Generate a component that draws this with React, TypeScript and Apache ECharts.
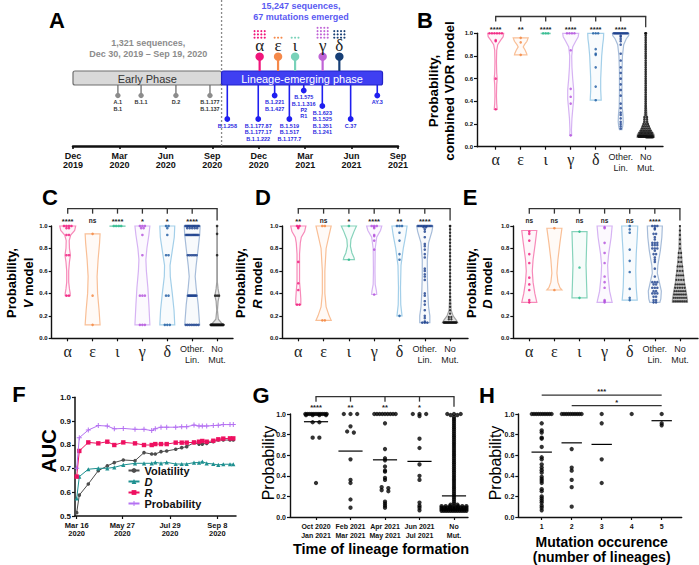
import React, { useEffect, useRef } from 'react';
import * as echarts from 'echarts';

const SANS = '"Liberation Sans", Arial, Helvetica, sans-serif';
const SERIF = '"Liberation Serif", "Times New Roman", Times, serif';
const INK = '#111111';

const rep = (v: number, n: number): number[] => Array(n).fill(v);
const expand = (pairs: number[][]): number[] => pairs.flatMap(([v, n]) => rep(v, n));

/* ---------------- Panel A : timeline ---------------- */
const timeTickMonths = [0, 3, 6, 9, 12, 15, 18, 21];
const timeTickLabels = ['Dec\n2019', 'Mar\n2020', 'Jun\n2020', 'Sep\n2020', 'Dec\n2020', 'Mar\n2021', 'Jun\n2021', 'Sep\n2021'];
const phaseLabels = ['Early Phase', 'Lineage-emerging phase'];
const phaseStartMonth = [0, 9.6];
const phaseEndMonth = [9.6, 20.0];
const phaseSplitMonth = 9.6;
const earlyLineages = ['A.1\nB.1', 'B.1.1', 'D.2', 'B.1.177\nB.1.137'];
const earlyLineageMonth = [2.9, 4.4, 6.65, 8.85];
const earlyLineageLevel = [95.5, 95.5, 95.5, 95.5];
const emergingLineages = ['B.1.258', 'B.1.177.87\nB.1.177.17\nB.1.1.222', 'B.1.221\nB.1.427', 'B.1.519\nB.1.517\nB.1.177.7', 'B.1.575\nB.1.1.316\nP2\nR1', 'B.1.623\nB.1.525\nB.1.351\nB.1.241', 'C.37', 'AY.3'];
const emergingLineageMonth = [9.97, 11.97, 13.03, 13.98, 14.91, 16.11, 17.94, 19.66];
const emergingLineageLevel = [119, 119, 95.5, 119, 90.5, 106, 119, 95.5];
const variantLetters = ['α', 'ε', 'ι', 'γ', 'δ'];
const variantMonth = [12.06, 13.25, 14.35, 16.13, 17.21];
const variantMutations = [12, 3, 3, 16, 12];
const variantColors = ['#f0167b', '#f5894a', '#79d2b9', '#c064d6', '#173f76'];

/* ---------------- Panels B-E : violins ---------------- */
const lineageCategories = ['α', 'ε', 'ι', 'γ', 'δ', 'Other.\nLin.', 'No\nMut.'];
const lineageDotColors = ['#f0157a', '#f4843c', '#28b98b', '#b34fdc', '#1d5aa0', '#1a3f8c', '#111111'];
const lineageViolinColors = ['#f78ab9', '#f9bf96', '#86d3bb', '#d6b3f3', '#a3cfe9', '#a6bcd9', '#a0a0a0'];

const violinB = [
  [[1.0, 0.32], [0.97, 0.3], [0.94, 0.2], [0.9, 0.08], [0.85, 0.04], [0.75, 0.03], [0.65, 0.04], [0.6, 0.06], [0.55, 0.04], [0.45, 0.03], [0.38, 0.04], [0.33, 0.06]],
  [[0.96, 0.3], [0.93, 0.25], [0.9, 0.15], [0.88, 0.1], [0.85, 0.18], [0.82, 0.24], [0.81, 0.25]],
  [[1.0, 0.18], [0.997, 0.18]],
  [[1.0, 0.32], [0.97, 0.3], [0.93, 0.2], [0.88, 0.08], [0.8, 0.04], [0.7, 0.05], [0.6, 0.08], [0.5, 0.12], [0.42, 0.12], [0.35, 0.09], [0.25, 0.05], [0.15, 0.03], [0.1, 0.04]],
  [[1.0, 0.32], [0.95, 0.31], [0.9, 0.28], [0.8, 0.24], [0.7, 0.22], [0.6, 0.2], [0.5, 0.2], [0.41, 0.22]],
  [[1.0, 0.33], [0.98, 0.32], [0.95, 0.22], [0.9, 0.12], [0.8, 0.07], [0.65, 0.05], [0.5, 0.05], [0.35, 0.06], [0.28, 0.09], [0.22, 0.1], [0.18, 0.08], [0.15, 0.05]],
  [[1.0, 0.015], [0.6, 0.015], [0.35, 0.03], [0.25, 0.06], [0.2, 0.1], [0.15, 0.2], [0.11, 0.33], [0.085, 0.35]],
];
const dotsB = [
  [1, 1, 1, 1, 1, 1, 0.94, 0.93, 0.6, 0.33],
  [0.96, 0.92, 0.81],
  [1, 1, 1],
  [1, 1, 1, 1, 0.85, 0.51, 0.44, 0.38, 0.1],
  [1, 1, 1, 0.86, 0.82, 0.81, 0.7, 0.53, 0.41],
  [...rep(1, 14), 0.98, 0.97, 0.95, 0.93, 0.9, 0.82, 0.76, 0.7, 0.65, 0.6, 0.55, 0.5, 0.45, 0.38, 0.34, 0.3, 0.28, 0.25, 0.22, 0.2, 0.18, 0.16],
  expand([[1, 3], [0.98, 1], [0.96, 1], [0.94, 1], [0.92, 1], [0.9, 1], [0.88, 1], [0.86, 1], [0.84, 1], [0.82, 1], [0.8, 1], [0.78, 1], [0.76, 1], [0.74, 1], [0.72, 1], [0.7, 1], [0.68, 1], [0.66, 1], [0.64, 1], [0.62, 1], [0.6, 1], [0.58, 1], [0.56, 1], [0.54, 1], [0.52, 1], [0.5, 1], [0.48, 1], [0.46, 1], [0.44, 1], [0.42, 1], [0.4, 1], [0.38, 1], [0.36, 1], [0.34, 1], [0.32, 1], [0.3, 1], [0.28, 1], [0.26, 2], [0.24, 2], [0.22, 2], [0.2, 3], [0.18, 4], [0.16, 5], [0.14, 7], [0.12, 10], [0.1, 14], [0.09, 16], [0.085, 16]]),
];
const starsB = ['****', '**', '****', '****', '****', '****'];

const violinC = [
  [[1.0, 0.32], [0.96, 0.28], [0.92, 0.12], [0.87, 0.06], [0.8, 0.07], [0.74, 0.11], [0.68, 0.07], [0.6, 0.04], [0.5, 0.04], [0.44, 0.07], [0.4, 0.1], [0.38, 0.1]],
  [[0.93, 0.3], [0.85, 0.28], [0.7, 0.22], [0.55, 0.18], [0.4, 0.2], [0.25, 0.26], [0.12, 0.3]],
  [[1.0, 0.3], [0.997, 0.3]],
  [[1.0, 0.3], [0.92, 0.26], [0.8, 0.18], [0.7, 0.14], [0.6, 0.16], [0.45, 0.22], [0.3, 0.26], [0.12, 0.3]],
  [[1.0, 0.3], [0.9, 0.28], [0.78, 0.2], [0.65, 0.11], [0.55, 0.12], [0.4, 0.2], [0.25, 0.27], [0.12, 0.3]],
  [[1.0, 0.32], [0.92, 0.3], [0.8, 0.24], [0.65, 0.16], [0.55, 0.12], [0.45, 0.16], [0.3, 0.24], [0.12, 0.3]],
  [[1.0, 0.012], [0.5, 0.012], [0.44, 0.04], [0.38, 0.09], [0.33, 0.04], [0.25, 0.015], [0.17, 0.05], [0.13, 0.2], [0.12, 0.3]],
];
const dotsC = [
  [1, 1, 1, 1, 0.98, 0.98, 0.92, 0.92, 0.74, 0.74, 0.38, 0.38],
  [0.93, 0.38, 0.12],
  [1, 1, 1, 1],
  [1, 1, 1, 0.98, 0.98, 0.92, 0.74, 0.38, 0.38, 0.38, 0.12, 0.12, 0.12],
  [1, 1, 0.98, 0.92, 0.74, 0.74, 0.38, 0.38, 0.12, 0.12, 0.12],
  [...rep(1, 12), ...rep(0.98, 5), ...rep(0.92, 12), ...rep(0.74, 6), ...rep(0.38, 10), ...rep(0.12, 8)],
  expand([[1, 1], [0.93, 1], [0.74, 1], [0.38, 3], [0.12, 25]]),
];
const starsC = ['****', 'ns', '****', '*', '*', '****'];

const violinD = [
  [[1.0, 0.3], [0.95, 0.25], [0.9, 0.12], [0.85, 0.08], [0.75, 0.05], [0.6, 0.05], [0.5, 0.05], [0.42, 0.08], [0.35, 0.1], [0.3, 0.1]],
  [[1.0, 0.3], [0.92, 0.22], [0.8, 0.1], [0.6, 0.05], [0.4, 0.05], [0.28, 0.1], [0.2, 0.22], [0.16, 0.3]],
  [[1.0, 0.3], [0.95, 0.2], [0.88, 0.08], [0.82, 0.06], [0.76, 0.12], [0.72, 0.2], [0.7, 0.22]],
  [[1.0, 0.3], [0.96, 0.25], [0.9, 0.1], [0.8, 0.04], [0.6, 0.03], [0.48, 0.04], [0.42, 0.09], [0.39, 0.1]],
  [[1.0, 0.3], [0.92, 0.25], [0.8, 0.15], [0.65, 0.06], [0.45, 0.04], [0.3, 0.05], [0.22, 0.09], [0.2, 0.1]],
  [[1.0, 0.32], [0.95, 0.28], [0.85, 0.15], [0.7, 0.1], [0.55, 0.1], [0.4, 0.12], [0.28, 0.15], [0.2, 0.2], [0.15, 0.2], [0.14, 0.2]],
  [[1.0, 0.012], [0.4, 0.012], [0.25, 0.04], [0.2, 0.12], [0.16, 0.25], [0.14, 0.3]],
];
const dotsD = [
  [1, 1, 0.99, 0.98, 0.68, 0.49, 0.43, 0.3, 0.3],
  [1, 1, 0.16, 0.16],
  [1, 0.7],
  [1, 1, 1, 0.99, 0.98, 0.92, 0.91, 0.87, 0.79, 0.39],
  [1, 1, 1, 0.94, 0.87, 0.75, 0.7, 0.2],
  [...rep(1, 10), 0.99, 0.99, 0.97, 0.95, 0.9, 0.84, 0.82, 0.79, 0.75, 0.72, 0.62, 0.6, 0.57, 0.55, 0.52, 0.4, 0.38, 0.33, 0.3, 0.25, 0.2, 0.18, 0.15, 0.14, 0.14, 0.14],
  expand([[1, 2], [0.97, 1], [0.94, 1], [0.91, 1], [0.88, 1], [0.85, 1], [0.82, 1], [0.79, 1], [0.76, 1], [0.73, 1], [0.7, 1], [0.67, 1], [0.64, 1], [0.61, 1], [0.58, 1], [0.55, 1], [0.52, 1], [0.49, 1], [0.46, 1], [0.43, 1], [0.4, 1], [0.37, 1], [0.34, 1], [0.31, 1], [0.28, 1], [0.25, 1], [0.22, 1], [0.19, 2], [0.17, 2], [0.14, 24]]),
];
const starsD = ['**', 'ns', '*', '****', '**', '****'];

const violinE = [
  [[0.96, 0.3], [0.85, 0.24], [0.7, 0.15], [0.6, 0.12], [0.5, 0.15], [0.4, 0.22], [0.32, 0.3]],
  [[0.98, 0.3], [0.85, 0.22], [0.7, 0.14], [0.58, 0.1], [0.5, 0.14], [0.45, 0.22], [0.43, 0.3]],
  [[0.95, 0.3], [0.8, 0.28], [0.65, 0.26], [0.5, 0.28], [0.36, 0.3]],
  [[1.0, 0.3], [0.9, 0.26], [0.75, 0.16], [0.65, 0.12], [0.55, 0.14], [0.42, 0.2], [0.32, 0.3]],
  [[1.0, 0.32], [0.9, 0.3], [0.75, 0.26], [0.6, 0.24], [0.45, 0.26], [0.34, 0.3]],
  [[1.0, 0.3], [0.9, 0.28], [0.78, 0.22], [0.65, 0.12], [0.58, 0.1], [0.5, 0.18], [0.42, 0.26], [0.35, 0.24], [0.32, 0.2]],
  [[1.0, 0.012], [0.8, 0.04], [0.65, 0.1], [0.5, 0.18], [0.4, 0.26], [0.34, 0.3], [0.32, 0.3]],
];
const dotsE = [
  [0.95, 0.93, 0.87, 0.75, 0.67, 0.54, 0.48, 0.43, 0.34, 0.32],
  [0.98, 0.43],
  [0.95, 0.63, 0.36],
  [0.99, 0.98, 0.85, 0.76, 0.67, 0.55, 0.5, 0.45, 0.34, 0.33, 0.32],
  [1.0, 0.97, 0.94, 0.79, 0.69, 0.59, 0.44, 0.36, 0.34],
  [1, 1, 1, 0.98, 0.97, 0.93, 0.93, 0.9, 0.88, 0.85, 0.85, 0.85, 0.83, 0.83, 0.83, 0.8, 0.8, 0.8, 0.78, 0.75, 0.75, 0.72, 0.7, 0.68, 0.62, 0.55, 0.5, 0.5, 0.5, 0.48, 0.48, 0.45, 0.45, 0.45, 0.42, 0.42, 0.4, 0.4, 0.4, 0.37, 0.37, 0.34, 0.34, 0.32, 0.32],
  expand([[1, 1], [0.96, 1], [0.92, 1], [0.88, 1], [0.84, 1], [0.8, 1], [0.76, 2], [0.72, 2], [0.68, 2], [0.64, 3], [0.6, 3], [0.56, 4], [0.52, 4], [0.48, 5], [0.45, 5], [0.42, 6], [0.39, 7], [0.36, 7], [0.33, 8]]),
];
const starsE = ['ns', 'ns', 'ns', 'ns', 'ns', '****'];

/* ---------------- Panel F : AUC ---------------- */
const aucSeriesNames = ['Volatility', 'D', 'R', 'Probability'];
const aucX = [0, 2.6, 11.6, 21.6, 30.6, 37.6, 46.6, 58.3, 67.3, 75, 78.6, 84.3, 90, 99, 105, 110, 117.3, 122.3, 125.6, 130, 136.6, 141.6, 146.6, 153.3, 156.6];
const aucVolatility = [0.514, 0.588, 0.635, 0.691, 0.711, 0.725, 0.736, 0.733, 0.767, 0.761, 0.761, 0.771, 0.774, 0.781, 0.788, 0.792, 0.809, 0.803, 0.803, 0.806, 0.813, 0.82, 0.82, 0.82, 0.82];
const aucD = [0.574, 0.666, 0.697, 0.701, 0.701, 0.705, 0.715, 0.722, 0.722, 0.722, 0.726, 0.722, 0.726, 0.719, 0.719, 0.719, 0.725, 0.725, 0.729, 0.722, 0.719, 0.715, 0.718, 0.718, 0.718];
const aucR = [0.666, 0.774, 0.81, 0.806, 0.813, 0.799, 0.81, 0.806, 0.799, 0.799, 0.803, 0.803, 0.803, 0.809, 0.809, 0.809, 0.81, 0.813, 0.816, 0.813, 0.817, 0.823, 0.826, 0.827, 0.827];
const aucProbability = [0.701, 0.83, 0.862, 0.881, 0.879, 0.867, 0.869, 0.865, 0.865, 0.86, 0.868, 0.874, 0.874, 0.874, 0.876, 0.876, 0.883, 0.879, 0.879, 0.879, 0.881, 0.882, 0.885, 0.885, 0.885];
const aucTickPos = [0, 45.6, 93.3, 140.6];
const aucTickLabels = ['Mar 16\n2020', 'May 27\n2020', 'Jul 29\n2020', 'Sep 8\n2020'];

/* ---------------- Panel G ---------------- */
const formationCategories = ['Oct 2020\nJan 2021', 'Feb 2021\nMar 2021', 'Apr 2021\nMay 2021', 'Jun 2021\nJul 2021', 'No\nMut.'];
const formationValues = [
  [...rep(1, 12), ...rep(0.99, 4), 0.92, 0.92, 0.77, 0.77, 0.33],
  [1, 1, 1, 0.88, 0.83, 0.82, 0.56, 0.36, 0.33, 0.17, 0.09],
  [...rep(1, 9), 0.91, 0.66, 0.57, 0.55, 0.49, 0.45, 0.44, 0.38, 0.36, 0.29, 0.28, 0.26, 0.25, 0.15, 0.13, 0.11, 0.09],
  [1, 1, 1, 0.98, 0.76, 0.67, 0.51, 0.4, 0.36, 0.14, 0.11, 0.09, 0.065],
  expand([[1, 3], [0.99, 2], [0.97, 1], [0.95, 1], [0.93, 1], [0.91, 1], [0.89, 1], [0.87, 1], [0.85, 1], [0.83, 1], [0.81, 1], [0.79, 1], [0.77, 1], [0.75, 1], [0.73, 1], [0.71, 1], [0.69, 1], [0.67, 1], [0.65, 1], [0.63, 1], [0.61, 1], [0.59, 1], [0.57, 1], [0.55, 1], [0.53, 1], [0.51, 1], [0.49, 1], [0.47, 1], [0.45, 1], [0.43, 1], [0.41, 1], [0.39, 1], [0.37, 1], [0.35, 1], [0.33, 1], [0.31, 1], [0.29, 1], [0.27, 1], [0.25, 1], [0.23, 1], [0.21, 1], [0.19, 1], [0.17, 1], [0.15, 1], [0.13, 1], [0.12, 2], [0.105, 7], [0.09, 10], [0.075, 12], [0.06, 12]]),
];
const formationMeans = [0.925, 0.64, 0.555, 0.54, 0.205];
const formationStars = ['****', '**', '**', '*'];

/* ---------------- Panel H ---------------- */
const occurrenceCategories = [1, 2, 3, 4, 5];
const occurrenceValues = [
  [...rep(1, 10), 0.91, 0.84, 0.82, 0.77, 0.76, 0.68, 0.58, 0.56, 0.51, 0.48, 0.455, 0.43, 0.39, 0.37, 0.35, 0.33, 0.27, 0.25, 0.2, 0.18, 0.16, 0.14, 0.11, 0.09, 0.065],
  [...rep(1, 10), 0.66, 0.48, 0.45, 0.36, 0.29, 0.1],
  [1, 0.91, 0.56, 0.33],
  [1],
  [1, 0.91, 0.89],
];
const occurrenceMeans = [0.63, 0.72, 0.705, null, 0.935];
const occurrenceBracketFrom = [1, 2];
const occurrenceBracketTo = [5, 5];
const occurrenceBracketStars = ['***', '*'];

/* ---------------- helpers ---------------- */
function halfAt(shape: number[][], y: number): number {
  if (y >= shape[0][0]) return shape[0][1];
  for (let k = 0; k < shape.length - 1; k++) {
    const [y0, h0] = shape[k];
    const [y1, h1] = shape[k + 1];
    if (y <= y0 && y >= y1) {
      const t = (y0 - y) / (y0 - y1 || 1);
      return h0 + (h1 - h0) * t;
    }
  }
  return shape[shape.length - 1][1];
}

function swarm(values: number[], center: number, dx: number, halfFn: (y: number) => number, bin: number): number[][] {
  const groups = new Map<number, number[]>();
  values.forEach((v) => {
    const k = Math.round(v / bin);
    if (!groups.has(k)) groups.set(k, []);
    groups.get(k)!.push(v);
  });
  const out: number[][] = [];
  groups.forEach((vs) => {
    const n = vs.length;
    const h = Math.max(0, halfFn(vs[0]));
    const s = n > 1 ? Math.min(dx, (2 * h) / (n - 1)) : 0;
    vs.forEach((v, k) => out.push([center + (k - (n - 1) / 2) * s, v]));
  });
  return out;
}

function hexToRgba(hex: string, a: number) {
  const n = parseInt(hex.slice(1), 16);
  return `rgba(${(n >> 16) & 255},${(n >> 8) & 255},${n & 255},${a})`;
}

const BOX_TOP = 71;
const BOX_BOTTOM = 85;
const VARIANT_HEAD = 56.7;

function probYAxis(gi: number, fontSize: number) {
  return {
    type: 'value', gridIndex: gi, min: 0, max: 1, interval: 0.2,
    axisLine: { show: true, onZero: false, lineStyle: { color: INK, width: 1.4 } },
    axisTick: { show: true, length: 3, lineStyle: { color: INK, width: 1.2 } },
    axisLabel: { fontSize, fontWeight: 'bold', color: INK, fontFamily: SANS, margin: 4, formatter: (v: number) => v.toFixed(1) },
    splitLine: { show: false },
  };
}

function lineageXAxis(gi: number, min: number, max: number) {
  const idx = lineageCategories.map((_, i) => i);
  return {
    type: 'value', gridIndex: gi, min, max,
    axisLine: { show: true, onZero: false, lineStyle: { color: INK, width: 1.4 } },
    axisTick: { show: true, length: 3, customValues: idx, lineStyle: { color: INK, width: 1.2 } },
    axisLabel: {
      customValues: idx, margin: 5,
      formatter: (v: number) => {
        const i = Math.round(v);
        const t = lineageCategories[i] || '';
        return i < 5 ? `{g|${t}}` : t.split('\n').map((s) => `{t|${s}}`).join('\n');
      },
      rich: {
        g: { fontFamily: SERIF, fontSize: 16, color: '#222', lineHeight: 16 },
        t: { fontFamily: SANS, fontSize: 9, color: '#222', lineHeight: 11 },
      },
    },
    splitLine: { show: false },
  };
}

function starText(text: string, x: number, y: number, size: number) {
  const isStar = text.indexOf('*') >= 0;
  return {
    type: 'text', x, y: y + (isStar ? 1.8 : 0),
    style: { text, fontSize: isStar ? size + 1 : size, fontWeight: 'bold', fontFamily: SANS, fill: '#222', align: 'center', verticalAlign: 'middle' },
  };
}

function bracketSeries(gi: number, n: number, stars: string[], lineY: number, tickY: number, dropY: number, starY: number, starSize: number) {
  return {
    type: 'custom', xAxisIndex: gi, yAxisIndex: gi, clip: false, silent: true, z: 5,
    data: [[0, 0]],
    renderItem: (_p: any, api: any) => {
      const st = { stroke: '#333', lineWidth: 1.3 };
      const L = api.coord([0, lineY]);
      const R = api.coord([n - 1, lineY]);
      const children: any[] = [{ type: 'line', shape: { x1: L[0] - 0.6, y1: L[1], x2: R[0] + 0.6, y2: R[1] }, style: st }];
      for (let i = 0; i < n - 1; i++) {
        const a = api.coord([i, lineY]);
        const b = api.coord([i, tickY]);
        children.push({ type: 'line', shape: { x1: a[0], y1: a[1], x2: b[0], y2: b[1] }, style: st });
        const s = api.coord([i, starY]);
        children.push(starText(stars[i], s[0], s[1], starSize));
      }
      const d = api.coord([n - 1, dropY]);
      children.push({ type: 'line', shape: { x1: R[0], y1: R[1], x2: d[0], y2: d[1] }, style: st });
      return { type: 'group', children };
    },
  };
}

function violinSeries(gi: number, shapes: number[][][], dots: number[][], noMutFill: string, noMutDot: number) {
  const violins = {
    type: 'custom', xAxisIndex: gi, yAxisIndex: gi, clip: false, silent: true, z: 2,
    data: shapes.map((_, i) => [i, 0]),
    renderItem: (_p: any, api: any) => {
      const i = api.value(0);
      const shape = shapes[i];
      const right = shape.map(([y, h]) => api.coord([i + h, y]));
      const left = shape.slice().reverse().map(([y, h]) => api.coord([i - h, y]));
      const col = lineageViolinColors[i];
      return {
        type: 'polygon',
        shape: { points: right.concat(left) },
        style: { fill: i === 6 ? noMutFill : hexToRgba(col, 0.08), stroke: col, lineWidth: 1.2 },
      };
    },
  };
  const pts: any[] = [];
  dots.forEach((vals, i) => {
    swarm(vals, i, 0.1, (y) => halfAt(shapes[i], y) * 0.85, 0.01).forEach((p) =>
      pts.push({ value: p, itemStyle: { color: lineageDotColors[i] }, symbolSize: i === 6 ? noMutDot : 2.6 }));
  });
  const scatter = {
    type: 'scatter', xAxisIndex: gi, yAxisIndex: gi, clip: false, silent: true, z: 3,
    symbolSize: 2.6, data: pts,
  };
  return [violins, scatter];
}

function buildOption() {
  const grids = [
    { left: 73, top: 0, width: 325, height: 146 },
    { left: 477, top: 33.3, width: 186, height: 113.4 },
    { left: 51.7, top: 226, width: 181.3, height: 112.3 },
    { left: 282.3, top: 226, width: 185.7, height: 112.3 },
    { left: 513.3, top: 226, width: 184.7, height: 112.3 },
    { left: 75, top: 397.3, width: 161, height: 118.7 },
    { left: 290, top: 414, width: 178, height: 103 },
    { left: 518.3, top: 414, width: 163.4, height: 103 },
  ].map((g) => ({ ...g, containLabel: false, outerBoundsMode: 'none' }));

  const xAxes: any[] = [
    {
      type: 'value', gridIndex: 0, min: 0, max: 21,
      axisLine: { show: true, onZero: false, lineStyle: { color: INK, width: 2.5 } },
      axisTick: { show: true, length: 3, customValues: timeTickMonths, lineStyle: { color: INK, width: 1.6 } },
      axisLabel: {
        customValues: timeTickMonths, margin: 6, fontSize: 9, fontWeight: 'bold', color: INK, fontFamily: SANS, lineHeight: 8.5,
        formatter: (v: number) => timeTickLabels[timeTickMonths.indexOf(Math.round(v))] || '',
      },
      splitLine: { show: false },
    },
    lineageXAxis(1, -0.748, 6.692),
    lineageXAxis(2, -0.643, 6.639),
    lineageXAxis(3, -0.632, 6.708),
    lineageXAxis(4, -0.637, 6.72),
    {
      type: 'value', gridIndex: 5, min: -1.7, max: 159.3,
      axisLine: { show: true, onZero: false, lineStyle: { color: INK, width: 1.5 } },
      axisTick: { show: true, length: 3, customValues: aucTickPos, lineStyle: { color: INK, width: 1.2 } },
      axisLabel: {
        customValues: aucTickPos, margin: 5, fontSize: 7.5, fontWeight: 'bold', color: INK, fontFamily: SANS, lineHeight: 8.3,
        formatter: (v: number) => {
          let best = 0;
          aucTickPos.forEach((p, i) => { if (Math.abs(p - v) < Math.abs(aucTickPos[best] - v)) best = i; });
          return aucTickLabels[best];
        },
      },
      splitLine: { show: false },
    },
    {
      type: 'value', gridIndex: 6, min: -0.754, max: 4.406,
      axisLine: { show: true, onZero: false, lineStyle: { color: INK, width: 1.4 } },
      axisTick: { show: true, length: 3, customValues: [0, 1, 2, 3, 4], lineStyle: { color: INK, width: 1.2 } },
      axisLabel: {
        customValues: [0, 1, 2, 3, 4], margin: 4.5, fontSize: 7, fontWeight: 'bold', color: INK, fontFamily: SANS, lineHeight: 9,
        formatter: (v: number) => formationCategories[Math.round(v)] || '',
      },
      splitLine: { show: false },
    },
    {
      type: 'value', gridIndex: 7, min: 0.22, max: 5.667,
      axisLine: { show: true, onZero: false, lineStyle: { color: INK, width: 1.4 } },
      axisTick: { show: true, length: 3, customValues: occurrenceCategories, lineStyle: { color: INK, width: 1.2 } },
      axisLabel: {
        customValues: occurrenceCategories, margin: 6, fontSize: 7, fontWeight: 'bold', color: INK, fontFamily: SANS,
        formatter: (v: number) => String(Math.round(v)),
      },
      splitLine: { show: false },
    },
  ];

  const yAxes: any[] = [
    { type: 'value', gridIndex: 0, min: 0, max: 146, inverse: true, show: false, splitLine: { show: false } },
    probYAxis(1, 6),
    probYAxis(2, 6),
    probYAxis(3, 6),
    probYAxis(4, 6),
    {
      type: 'value', gridIndex: 5, min: 0.5, max: 1.0, interval: 0.1,
      axisLine: { show: true, onZero: false, lineStyle: { color: INK, width: 1.5 } },
      axisTick: { show: true, length: 3, lineStyle: { color: INK, width: 1.2 } },
      axisLabel: { fontSize: 8, fontWeight: 'bold', color: INK, fontFamily: SANS, margin: 4, formatter: (v: number) => v.toFixed(1) },
      splitLine: { show: false },
    },
    probYAxis(6, 7),
    probYAxis(7, 7),
  ];

  const series: any[] = [];

  /* ---- A ---- */
  series.push({
    type: 'custom', xAxisIndex: 0, yAxisIndex: 0, clip: false, silent: true, z: 1,
    data: [[phaseSplitMonth, 0]],
    renderItem: (_p: any, api: any) => {
      const a = api.coord([api.value(0), 0]);
      const b = api.coord([api.value(0), 146]);
      return { type: 'line', shape: { x1: a[0], y1: a[1], x2: b[0], y2: b[1] }, style: { stroke: '#8a8a8a', lineWidth: 1.3, lineDash: [2, 2] } };
    },
  });
  const stemSeries = (months: number[], levels: number[], labels: string[], color: string, labelColor: string, r: number) => ({
    type: 'custom', xAxisIndex: 0, yAxisIndex: 0, clip: false, silent: true, z: 2,
    data: months.map((m, i) => [m, levels[i], i]),
    renderItem: (_p: any, api: any) => {
      const m = api.value(0);
      const lv = api.value(1);
      const i = api.value(2);
      const base = api.coord([m, BOX_BOTTOM]);
      const tip = api.coord([m, lv]);
      return {
        type: 'group', children: [
          { type: 'line', shape: { x1: base[0], y1: base[1], x2: tip[0], y2: tip[1] }, style: { stroke: color, lineWidth: 1.6 } },
          { type: 'circle', shape: { cx: tip[0], cy: tip[1], r }, style: { fill: color } },
          { type: 'text', x: tip[0], y: tip[1] + 3.6, style: { text: labels[i], fill: labelColor, fontSize: 5.5, fontWeight: 'bold', fontFamily: SANS, align: 'center', verticalAlign: 'top', lineHeight: 6.4 } },
        ],
      };
    },
  });
  series.push(stemSeries(earlyLineageMonth, earlyLineageLevel, earlyLineages, '#8c8c8c', '#333333', 2.7));
  series.push(stemSeries(emergingLineageMonth, emergingLineageLevel, emergingLineages, '#1f1ff0', '#2a2ae0', 2.9));
  series.push({
    type: 'custom', xAxisIndex: 0, yAxisIndex: 0, clip: false, silent: true, z: 3,
    data: phaseLabels.map((_, i) => [phaseStartMonth[i], BOX_TOP, phaseEndMonth[i], i]),
    renderItem: (_p: any, api: any) => {
      const s = api.value(0);
      const e = api.value(2);
      const i = api.value(3);
      const a = api.coord([s, BOX_TOP]);
      const b = api.coord([e, BOX_BOTTOM]);
      return {
        type: 'group', children: [
          { type: 'rect', shape: { x: a[0], y: a[1], width: b[0] - a[0], height: b[1] - a[1], r: 2 }, style: { fill: i === 0 ? '#d9d9d9' : '#3f3ff2', stroke: i === 0 ? '#6f6f6f' : '#2323c8', lineWidth: 1.2 } },
          { type: 'text', x: (a[0] + b[0]) / 2, y: (a[1] + b[1]) / 2 + 0.5, style: { text: phaseLabels[i], fontSize: 11, fontFamily: SANS, fill: i === 0 ? '#333333' : '#ffffff', align: 'center', verticalAlign: 'middle' } },
        ],
      };
    },
  });
  series.push({
    type: 'custom', xAxisIndex: 0, yAxisIndex: 0, clip: false, silent: true, z: 3,
    data: variantMonth.map((m, i) => [m, VARIANT_HEAD, i]),
    renderItem: (_p: any, api: any) => {
      const m = api.value(0);
      const i = api.value(2);
      const col = variantColors[i];
      const base = api.coord([m, BOX_TOP]);
      const head = api.coord([m, VARIANT_HEAD]);
      const children: any[] = [
        { type: 'line', shape: { x1: base[0], y1: base[1], x2: head[0], y2: head[1] }, style: { stroke: col, lineWidth: 2.2 } },
        { type: 'circle', shape: { cx: head[0], cy: head[1], r: 4.2 }, style: { fill: col } },
        { type: 'text', x: head[0], y: head[1] - 11, style: { text: variantLetters[i], fontSize: 17, fontFamily: SERIF, fill: '#222', align: 'center', verticalAlign: 'middle' } },
      ];
      const n = variantMutations[i];
      const cols = n <= 4 ? n : 4;
      for (let k = 0; k < n; k++) {
        const r = Math.floor(k / cols);
        const c = k % cols;
        children.push({ type: 'circle', shape: { cx: head[0] + (c - (cols - 1) / 2) * 3.4, cy: head[1] - 19 - r * 3.3, r: 1.05 }, style: { fill: col } });
      }
      return { type: 'group', children };
    },
  });

  /* ---- B-E ---- */
  series.push(...violinSeries(1, violinB, dotsB, 'rgba(110,110,110,0.22)', 2.6));
  series.push(bracketSeries(1, 7, starsB, 1.148, 1.104, 1.054, 1.052, 6.5));
  series.push(...violinSeries(2, violinC, dotsC, 'rgba(110,110,110,0.18)', 2.6));
  series.push(bracketSeries(2, 7, starsC, 1.155, 1.11, 1.05, 1.052, 6.5));
  series.push(...violinSeries(3, violinD, dotsD, 'rgba(110,110,110,0.2)', 2.4));
  series.push(bracketSeries(3, 7, starsD, 1.155, 1.11, 1.05, 1.052, 6.5));
  series.push(...violinSeries(4, violinE, dotsE, 'rgba(120,120,120,0.45)', 2.2));
  series.push(bracketSeries(4, 7, starsE, 1.155, 1.11, 1.05, 1.052, 6.5));

  /* ---- F ---- */
  const fStyles = [
    { color: '#4d4d4d', symbol: 'circle', size: 3.6 },
    { color: '#1e9090', symbol: 'triangle', size: 4.2 },
    { color: '#ee1060', symbol: 'rect', size: 4.4 },
    { color: '#b572f2', symbol: 'path://M2,0H3V2H5V3H3V5H2V3H0V2H2Z', size: 5 },
  ];
  const fData = [aucVolatility, aucD, aucR, aucProbability];
  aucSeriesNames.forEach((name, k) => {
    series.push({
      type: 'line', name, xAxisIndex: 5, yAxisIndex: 5, silent: true, clip: false,
      data: aucX.map((x, i) => [x, fData[k][i]]),
      symbol: fStyles[k].symbol, symbolSize: fStyles[k].size, showSymbol: true,
      lineStyle: { color: fStyles[k].color, width: 1 },
      itemStyle: { color: fStyles[k].color },
      z: 3 + k,
    });
  });

  /* ---- G ---- */
  const gPts: number[][] = [];
  formationValues.forEach((vals, i) => {
    const half = i === 4 ? 0.36 : 0.31;
    swarm(vals, i, 0.194, () => half, 0.015).forEach((p) => gPts.push(p));
  });
  series.push({ type: 'scatter', xAxisIndex: 6, yAxisIndex: 6, clip: false, silent: true, symbolSize: 4.3, itemStyle: { color: '#000' }, data: gPts, z: 3 });
  series.push({
    type: 'custom', xAxisIndex: 6, yAxisIndex: 6, clip: false, silent: true, z: 4,
    data: formationMeans.map((m, i) => [i, m]),
    renderItem: (_p: any, api: any) => {
      const i = api.value(0);
      const m = api.value(1);
      const a = api.coord([i - 0.35, m]);
      const b = api.coord([i + 0.35, m]);
      return { type: 'line', shape: { x1: a[0], y1: a[1], x2: b[0], y2: b[1] }, style: { stroke: '#000', lineWidth: 1.2 } };
    },
  });
  series.push(bracketSeries(6, 5, formationStars, 1.168, 1.12, 1.071, 1.083, 6.5));

  /* ---- H ---- */
  const hPts: number[][] = [];
  occurrenceValues.forEach((vals, i) => {
    swarm(vals, occurrenceCategories[i], 0.22, () => 0.33, 0.02).forEach((p) => hPts.push(p));
  });
  series.push({ type: 'scatter', xAxisIndex: 7, yAxisIndex: 7, clip: false, silent: true, symbolSize: 4.3, itemStyle: { color: '#000' }, data: hPts, z: 3 });
  series.push({
    type: 'custom', xAxisIndex: 7, yAxisIndex: 7, clip: false, silent: true, z: 4,
    data: occurrenceMeans.map((m, i) => [occurrenceCategories[i], m]).filter((d) => d[1] !== null),
    renderItem: (_p: any, api: any) => {
      const c = api.value(0);
      const m = api.value(1);
      const a = api.coord([c - 0.34, m]);
      const b = api.coord([c + 0.34, m]);
      return { type: 'line', shape: { x1: a[0], y1: a[1], x2: b[0], y2: b[1] }, style: { stroke: '#000', lineWidth: 1.2 } };
    },
  });
  series.push({
    type: 'custom', xAxisIndex: 7, yAxisIndex: 7, clip: false, silent: true, z: 5,
    data: occurrenceBracketFrom.map((f, i) => [f, occurrenceBracketTo[i], i]),
    renderItem: (_p: any, api: any) => {
      const f = api.value(0);
      const t = api.value(1);
      const i = api.value(2);
      const lineY = i === 0 ? 1.184 : 1.081;
      const starY = i === 0 ? 1.232 : 1.132;
      const a = api.coord([f, lineY]);
      const b = api.coord([t, lineY]);
      const s = api.coord([(f + t) / 2, starY]);
      return {
        type: 'group', children: [
          { type: 'line', shape: { x1: a[0], y1: a[1], x2: b[0], y2: b[1] }, style: { stroke: '#333', lineWidth: 1.3 } },
          starText(occurrenceBracketStars[i], s[0], s[1], 6.5),
        ],
      };
    },
  });

  /* ---- texts ---- */
  const txt = (text: string, x: number, y: number, size: number, opts: any = {}) => ({
    type: 'text', x, y, silent: true, rotation: opts.rotation || 0,
    style: {
      text, fontSize: size, fontWeight: opts.weight || 'bold', fontFamily: opts.family || SANS,
      fill: opts.fill || '#000', align: 'center', verticalAlign: 'middle', lineHeight: opts.lineHeight, rich: opts.rich,
    },
  });
  const R90 = Math.PI / 2;
  const ytRich = (size: number) => ({
    n: { fontSize: size, fontWeight: 'bold', fontFamily: SANS, fill: '#000', lineHeight: 16.5 },
    i: { fontSize: size, fontWeight: 'bold', fontStyle: 'italic', fontFamily: SANS, fill: '#000', lineHeight: 16.5 },
  });
  const graphic: any[] = [
    txt('A', 57, 20, 22), txt('B', 425, 20, 22), txt('C', 50, 197, 22), txt('D', 263, 197, 22),
    txt('E', 470, 197, 22), txt('F', 19, 394, 22), txt('G', 261, 395, 22), txt('H', 487, 395, 22),
    txt('15,247 sequences,', 301, 6.3, 9, { fill: '#5a5af2' }),
    txt('67 mutations emerged', 301, 17, 9, { fill: '#5a5af2' }),
    txt('1,321 sequences,', 148.3, 43.3, 9, { fill: '#8c8c8c' }),
    txt('Dec 30, 2019 – Sep 19, 2020', 148.3, 54, 9, { fill: '#8c8c8c' }),
    txt('{n|Probability,}\n{n|combined VDR model}', 441.5, 91, 13, { rotation: R90, rich: ytRich(13.5) }),
    txt('{n|Probability,}\n{i|V}{n| model}', 20, 283, 13, { rotation: R90, rich: ytRich(13) }),
    txt('{n|Probability,}\n{i|R}{n| model}', 249, 283, 13, { rotation: R90, rich: ytRich(13) }),
    txt('{n|Probability,}\n{i|D}{n| model}', 479.5, 283, 13, { rotation: R90, rich: ytRich(13) }),
    txt('AUC', 49, 451, 20, { rotation: R90 }),
    txt('Probability', 268, 463, 16, { rotation: R90, weight: 'normal' }),
    txt('Probability', 495, 463, 16, { rotation: R90, weight: 'normal' }),
    txt('Time of lineage formation', 381, 549, 14.5),
    txt('Mutation occurence\n(number of lineages)', 601.7, 549.3, 14, { lineHeight: 14.7 }),
  ];

  return {
    animation: false,
    backgroundColor: '#ffffff',
    textStyle: { fontFamily: SANS },
    grid: grids,
    xAxis: xAxes,
    yAxis: yAxes,
    legend: {
      data: aucSeriesNames, orient: 'vertical', left: 122.5, top: 460, itemWidth: 11, itemHeight: 6, itemGap: 0,
      selectedMode: false,
      formatter: (name: string) => (name === 'D' || name === 'R' ? `{i|${name}}` : `{n|${name}}`),
      textStyle: {
        fontSize: 11, fontWeight: 'bold', color: INK, fontFamily: SANS, lineHeight: 10.6,
        rich: {
          n: { fontSize: 11, fontWeight: 'bold', color: INK, fontFamily: SANS, lineHeight: 10.6 },
          i: { fontSize: 11, fontWeight: 'bold', fontStyle: 'italic', color: INK, fontFamily: SANS, lineHeight: 10.6 },
        },
      },
    },
    series,
    graphic,
  };
}

export default function App() {
  const ref = useRef<HTMLDivElement>(null);
  useEffect(() => {
    document.body.style.margin = '0';
    const chart = echarts.init(ref.current!, null, { renderer: 'svg' });
    chart.setOption(buildOption() as any);
    return () => chart.dispose();
  }, []);
  return <div ref={ref} style={{ width: 699, height: 565, background: '#fff' }} />;
}
